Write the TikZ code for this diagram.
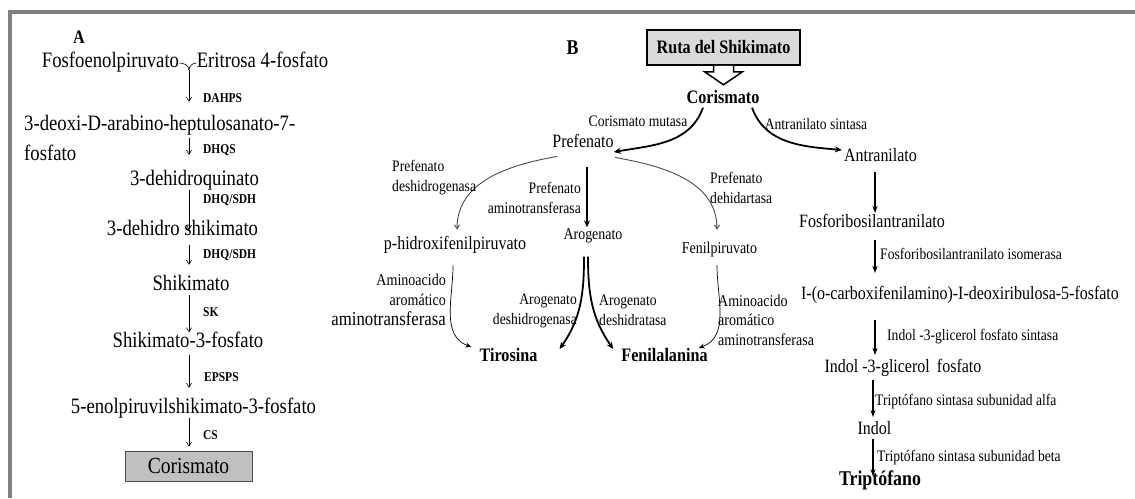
\documentclass[tikz,border=0pt]{standalone}
\usepackage{fontspec}
\setmainfont{Liberation Serif}[FakeStretch=0.85]
\usepackage{tikz}
\usetikzlibrary{arrows.meta, positioning}
\usepackage{xcolor}

\definecolor{framegray}{HTML}{808080}
\definecolor{boxgray}{HTML}{C0C0C0}
\definecolor{rutagray}{HTML}{D9D9D9}
\definecolor{arcgray}{HTML}{4A4A4A}

\tikzset{
    metA/.style={font=\fontsize{22}{28}\selectfont, inner sep=0pt, text height=15pt, text depth=4pt},
    enzA/.style={font=\bfseries\fontsize{13.5}{16}\selectfont, inner sep=0pt, anchor=west},
    arrA/.style={-{Straight Barb[length=4pt,width=5pt]}, line width=0.6pt},
    metB/.style={font=\fontsize{18.8}{22}\selectfont, inner sep=0pt, text height=13pt, text depth=3.5pt},
    metS/.style={font=\fontsize{16.4}{20}\selectfont, inner sep=0pt, text height=11.5pt, text depth=3.5pt},
    enzB/.style={font=\fontsize{16}{20}\selectfont, inner sep=0pt},
    prodB/.style={font=\bfseries\fontsize{19}{22}\selectfont, inner sep=0pt, text height=13pt, text depth=4pt},
    arrB/.style={-{Stealth[length=7pt,width=6pt]}, line width=1.8pt},
    arrT/.style={-{Stealth[length=7pt,width=5pt]}, line width=1.3pt},
    thinB/.style={-{Stealth[length=6pt,width=5pt]}, line width=0.7pt},
    arcB/.style={-{Straight Barb[length=4pt,width=5pt]}, line width=0.9pt, arcgray},
    rutabox/.style={draw, line width=1.5pt, fill=rutagray, minimum width=153pt, minimum height=35pt,
        inner sep=0pt, font=\bfseries\fontsize{19}{22}\selectfont},
}

\begin{document}
\begin{tikzpicture}[x=1pt, y=-1pt]
        \useasboundingbox (0,0) rectangle (1135,498);
        % marco
        \draw[framegray, line width=4pt] (10,498) -- (10,12) -- (1135,12);

        % ---------- A ----------
        \node[font=\bfseries\fontsize{19}{22}\selectfont] (labA) at (79,37) {A};
        \coordinate (colA) at (189,0);
        \node[metA] (pep) at (110.5,62) {Fosfoenolpiruvato};
        \node[metA] (e4p) at (262.5,62) {Eritrosa 4-fosfato};
        \coordinate (join) at (189,70);
        \node[metA, anchor=west] (dahp) at (24,125) {3-deoxi-D-arabino-heptulosanato-7-};
        \node[metA, anchor=west] (dahpb) at (24,155) {fosfato};
        \node[metA] (dhq) at (194.5,180) {3-dehidroquinato};
        \node[metA] (dhs) at (182.5,230) {3-dehidro shikimato};
        \node[metA] (shik) at (191,285) {Shikimato};
        \node[metA] (s3p) at (188,342) {Shikimato-3-fosfato};
        \node[metA] (epsp) at (193.5,408) {5-enolpiruvilshikimato-3-fosfato};
        \node[draw=black!70, line width=0.8pt, fill=boxgray, minimum width=127pt, minimum height=30pt,
            inner sep=0pt, font=\fontsize{23}{26}\selectfont] (corA) at (188.5,466) {Corismato};

        % union y flechas
        \draw[line width=0.6pt] ([yshift=-1pt]pep.east) to[out=0, in=90] (join);
        \draw[line width=0.6pt] ([yshift=-1pt]e4p.west) to[out=180, in=90] (join);
        \draw[arrA, shorten >=13.5pt] (join) -- (dahp.north -| colA);
        \draw[arrA, shorten <=3.5pt, shorten >=15.5pt] (dahp.south -| colA) -- (dhq.north -| colA);
        \draw[arrA, shorten >=-9.5pt] (dhq.south -| colA) -- (dhs.north -| colA);
        \draw[arrA, shorten <=5.5pt, shorten >=10.5pt] (dhs.south -| colA) -- (shik.north -| colA);
        \draw[arrA] (shik.south -| colA) -- (s3p.north -| colA);
        \draw[arrA, shorten <=3.5pt, shorten >=10.5pt] (s3p.south -| colA) -- (epsp.north -| colA);
        \draw[arrA, shorten >=4pt] (epsp.south -| colA) -- (corA.north -| colA);

        % enzimas
        \node[enzA] (e1) at (203,98) {DAHPS};
        \node[enzA] (e2) at (203,150) {DHQS};
        \node[enzA] (e3) at (203,200) {DHQ/SDH};
        \node[enzA] (e4) at (203,255) {DHQ/SDH};
        \node[enzA] (e5) at (203,312) {SK};
        \node[enzA] (e6) at (204,377) {EPSPS};
        \node[enzA] (e7) at (203,435) {CS};

        % ---------- B ----------
        \node[font=\bfseries\fontsize{21}{24}\selectfont] (labB) at (572.5,48) {B};
        \node[rutabox] (ruta) at (723.5,47.5) {Ruta del Shikimato};
        \filldraw[fill=white, line width=1.5pt, line join=miter] ([xshift=-10pt]ruta.south) -- ++(0,6) -- ++(-9,0)
            -- ++(19,13) -- ++(19,-13) -- ++(-9,0) -- ++(0,-6);

        \node[prodB] (corB) at (723,99) {Corismato};
        \node[metB] (pre) at (583,143) {Prefenato};
        \node[metB] (ant) at (880.5,157) {Antranilato};
        \node[metB] (phx) at (455,245) {p-hidroxifenilpiruvato};
        \node[metS] (aro) at (593,235) {Arogenato};
        \node[metS] (fpy) at (719.5,249) {Fenilpiruvato};
        \node[prodB] (tyr) at (508.5,357) {Tirosina};
        \node[prodB] (phe) at (664.5,357) {Fenilalanina};

        \draw[arrB] ([xshift=-20pt]corB.south) to[out=-110, in=10] ([yshift=-9pt]pre.east);
        \draw[arrB] ([xshift=29pt]corB.south) to[out=-70, in=175] ([xshift=-2pt,yshift=7pt]ant.west);
        \node[enzB] (cm) at (638,121) {Corismato mutasa};
        \node[enzB] (as) at (816,124) {Antranilato sintasa};

        % ramas del prefenato
        \draw[arcB] ([xshift=-26pt,yshift=-5pt]pre.south) to[out=190, in=90] ([xshift=2pt,yshift=7pt]phx.north);
        \draw[arrB, line width=2pt] ([xshift=4pt,yshift=-16pt]pre.south) -- ([xshift=-6pt]aro.north);
        \draw[arcB] ([xshift=32pt,yshift=-6pt]pre.south) to[out=-10, in=90] ([xshift=-2.5pt,yshift=11.5pt]fpy.north);
        \node[enzB, align=left, anchor=west] (pdh) at (392,178) {Prefenato\\deshidrogenasa};
        \node[enzB, align=right, anchor=east] (pat) at (581,198) {Prefenato\\aminotransferasa};
        \node[enzB, align=left, anchor=west] (pdt) at (710,187.5) {Prefenato\\dehidartasa};

        % hacia tirosina y fenilalanina
        \draw[thinB] ([xshift=-2pt,yshift=-12pt]phx.south) to[out=-90, in=160] ([xshift=-8pt,yshift=10pt]tyr.west);
        \draw[arrB] ([xshift=-9pt,yshift=-14pt]aro.south) to[out=-90, in=55] ([xshift=22pt,yshift=8pt]tyr.east);
        \draw[arrB] ([xshift=-5pt,yshift=-14pt]aro.south) to[out=-90, in=125] ([xshift=-8pt,yshift=8pt]phe.west);
        \draw[thinB] ([xshift=-2.5pt,yshift=-8.5pt]fpy.south) to[out=-90, in=20] ([xshift=-9pt,yshift=9pt]phe.east);
        \node[font=\fontsize{16.5}{20}\selectfont, inner sep=0pt, align=right, anchor=east] (aat1) at (446,300)
            {Aminoacido\\aromático\\{\fontsize{19.7}{20}\selectfont aminotransferasa}};
        \node[enzB, align=right, anchor=east] (adh) at (577,310.5) {Arogenato\\deshidrogenasa};
        \node[enzB, align=left, anchor=west] (adt) at (599,310.5) {Arogenato\\deshidratasa};
        \node[font=\fontsize{16.5}{19.5}\selectfont, inner sep=0pt, align=left, anchor=west] (aat2) at (718,320)
            {Aminoacido\\aromático\\aminotransferasa};

        % rama del triptofano
        \coordinate (colT) at (875,0);
        \coordinate (colI) at (873,0);
        \node[metB] (fra) at (872,223) {Fosforibosilantranilato};
        \node[metB] (cdr) at (960,295) {I-(o-carboxifenilamino)-I-deoxiribulosa-5-fosfato};
        \node[metB] (igp) at (903,368) {Indol -3-glicerol\, fosfato};
        \node[metB] (indol) at (874.5,430) {Indol};
        \node[prodB, font=\bfseries\fontsize{21}{24}\selectfont] (trp) at (880,481) {Triptófano};

        \draw[arrT, shorten <=6.5pt, shorten >=1.5pt] (ant.south -| colT) -- (fra.north -| colT);
        \draw[arrT, shorten <=8.5pt, shorten >=13.5pt] (fra.south -| colT) -- (cdr.north -| colT);
        \draw[arrT, shorten <=16.5pt, shorten >=4.5pt] (cdr.south -| colT) -- (igp.north -| colT);
        \draw[arrT, shorten <=3.5pt, shorten >=4.5pt] (igp.south -| colI) -- (indol.north -| colI);
        \draw[arrT, shorten <=0.5pt, shorten >=-4pt] (indol.south -| colI) -- (trp.north -| colI);

        \node[enzB, anchor=west] (t1) at (880,254) {Fosforibosilantranilato isomerasa};
        \node[enzB, anchor=west] (t2) at (887,337) {Indol -3-glicerol fosfato sintasa};
        \node[enzB, anchor=west] (t3) at (875,402) {Triptófano sintasa subunidad alfa};
        \node[enzB, anchor=west] (t4) at (877,458) {Triptófano sintasa subunidad beta};
\end{tikzpicture}
\end{document}
